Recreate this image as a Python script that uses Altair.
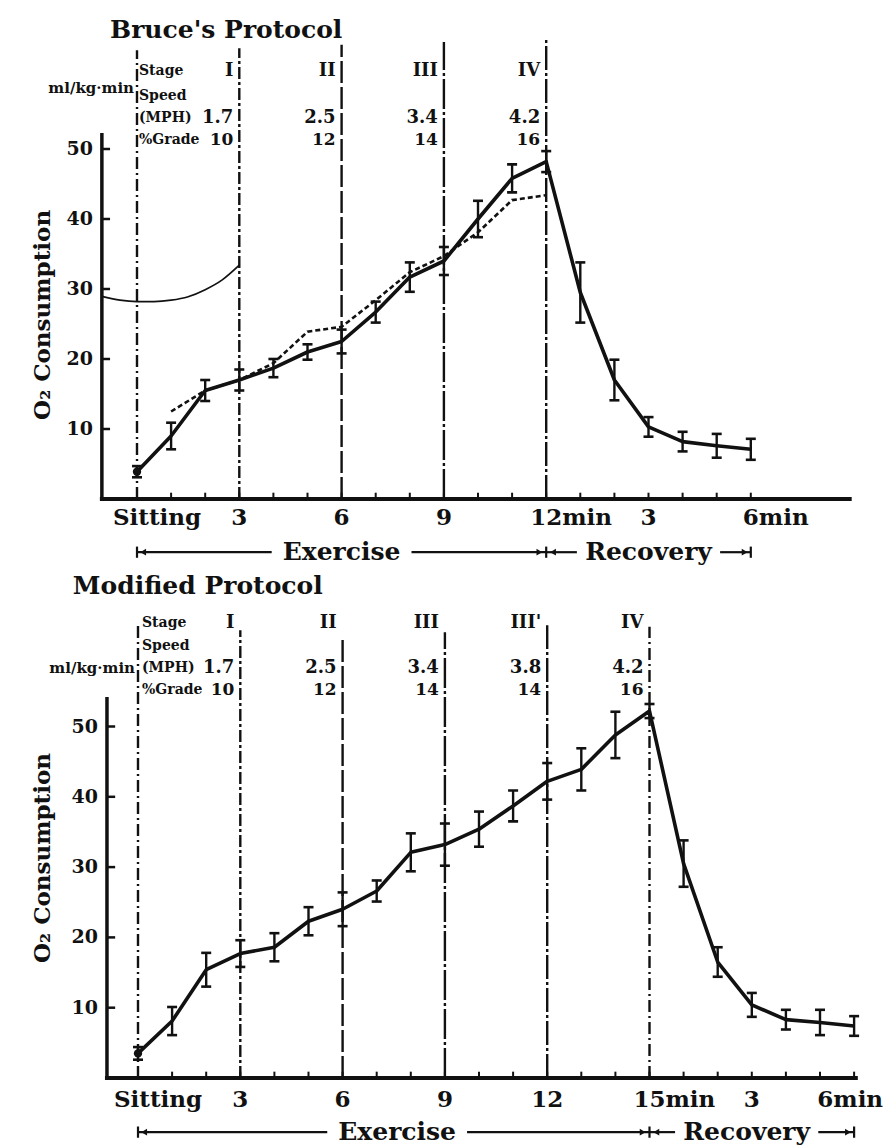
import altair as alt
import pandas as pd

FONT = "DejaVu Serif"
INK = "#111111"

# ---------------- Bruce's protocol ----------------
BR_MIN = list(range(19))
BR_O2 = [3.9, 9.0, 15.5, 17.0, 18.7, 21.0, 22.5, 26.7, 31.7, 34.0, 40.0, 45.8,
         48.2, 29.5, 17.0, 10.3, 8.2, 7.6, 7.1]
BR_SD = [0.8, 1.9, 1.5, 1.5, 1.3, 1.1, 1.7, 1.5, 2.1, 2.0, 2.6, 2.0,
         1.5, 4.3, 2.9, 1.4, 1.4, 1.7, 1.5]
BR_ALT_MIN = list(range(1, 13))
BR_ALT_O2 = [12.5, 15.5, 17.0, 19.4, 23.9, 24.6, 28.4, 32.4, 34.7, 38.1, 42.7, 43.4]
BR_REF_MIN = [-1, -0.5, 0, 0.5, 1, 1.5, 2, 2.5, 3]
BR_REF_O2 = [28.9, 28.4, 28.2, 28.2, 28.4, 28.9, 29.9, 31.3, 33.4]
BR_STAGE_END = [3, 6, 9, 12]
BR_STAGE = ["I", "II", "III", "IV"]
BR_SPEED = ["1.7", "2.5", "3.4", "4.2"]
BR_GRADE = ["10", "12", "14", "16"]
BR_MARKS = [0, 3, 6, 9, 12]
BR_MARK_TOP = [64.1, 64.4, 64.9, 65.3, 65.6]
BR_TICKS = [0, 3, 6, 9, 12, 15, 18]
BR_TICK_TEXT = ["Sitting", "3", "6", "9", "12min", "3", "6min"]

# ---------------- Modified protocol ----------------
MO_MIN = list(range(22))
MO_O2 = [3.5, 8.1, 15.4, 17.7, 18.6, 22.3, 24.0, 26.6, 32.1, 33.2, 35.4, 38.7,
         42.2, 43.9, 48.8, 52.2, 30.5, 16.5, 10.4, 8.3, 7.9, 7.4]
MO_SD = [0.9, 2.0, 2.4, 1.9, 2.0, 2.0, 2.4, 1.5, 2.7, 3.0, 2.5, 2.2,
         2.6, 3.0, 3.3, 1.0, 3.3, 2.1, 1.7, 1.4, 1.8, 1.4]
MO_STAGE_END = [3, 6, 9, 12, 15]
MO_STAGE = ["I", "II", "III", "III'", "IV"]
MO_SPEED = ["1.7", "2.5", "3.4", "3.8", "4.2"]
MO_GRADE = ["10", "12", "14", "14", "16"]
MO_MARKS = [0, 3, 6, 9, 12, 15]
MO_MARK_TOP = [64.4, 63.7, 62.3, 63.4, 64.4, 64.2]
MO_TICKS = [0, 3, 6, 9, 12, 15, 18, 21]
MO_TICK_TEXT = ["Sitting", "3", "6", "9", "12", "15min", "3", "6min"]

Y_TICKS = [10, 20, 30, 40, 50]
DASHES = [[12, 4, 2, 4], [12, 3, 3, 3], [22, 4], [30, 3, 3, 3], [24, 3, 3, 3], [10, 4]]


def panel(p):
    xs = alt.Scale(domain=p["xdom"], nice=False, zero=False)
    ys = alt.Scale(domain=p["ydom"], nice=False, zero=False)

    def X(f):
        return alt.X(f, type="quantitative", scale=xs, axis=None)

    def Y(f):
        return alt.Y(f, type="quantitative", scale=ys, axis=None)

    def text_layer(df, **kw):
        base = dict(font=FONT, fontWeight="bold", color=INK, baseline="middle")
        base.update(kw)
        return alt.Chart(df).mark_text(**base).encode(x=X("t"), y=Y("v"), text="s:N")

    layers = []

    # stage boundaries
    marks = pd.DataFrame({"t": p["marks"], "top": p["mark_top"], "zero": 0.0,
                          "k": [str(i) for i in range(len(p["marks"]))]})
    layers.append(alt.Chart(marks).mark_rule(strokeWidth=2.4, color=INK).encode(
        x=X("t"), y=Y("zero"), y2="top",
        strokeDash=alt.StrokeDash("k:N", legend=None,
                                  scale=alt.Scale(domain=list(marks["k"]),
                                                  range=DASHES[:len(marks)]))))

    # axes
    x0, x1, ytop = p["axis"]
    layers.append(alt.Chart(pd.DataFrame({"a": [x0], "b": [x1], "v": [0.0]}))
                  .mark_rule(strokeWidth=4, color=INK, strokeCap="square")
                  .encode(x=X("a"), x2="b", y=Y("v")))
    layers.append(alt.Chart(pd.DataFrame({"t": [x0], "a": [0.0], "b": [ytop]}))
                  .mark_rule(strokeWidth=3.5, color=INK)
                  .encode(x=X("t"), y=Y("a"), y2="b"))
    xt = pd.DataFrame({"t": p["minutes"], "a": 0.0, "b": 0.9})
    layers.append(alt.Chart(xt).mark_rule(strokeWidth=2, color=INK)
                  .encode(x=X("t"), y=Y("a"), y2="b"))
    yt = pd.DataFrame({"v": Y_TICKS, "a": x0, "b": x0 + 0.24})
    layers.append(alt.Chart(yt).mark_rule(strokeWidth=2.5, color=INK)
                  .encode(x=X("a"), x2="b", y=Y("v")))
    ytl = pd.DataFrame({"v": Y_TICKS, "t": x0, "s": [str(v) for v in Y_TICKS]})
    layers.append(text_layer(ytl, align="right", dx=-9, fontSize=19))

    # x tick labels
    ticks = pd.DataFrame({"t": p["ticks"], "s": p["tick_text"], "v": p["tick_row"]})
    plain = ticks[~ticks["s"].str.contains("min") & (ticks["s"] != "Sitting")]
    layers.append(text_layer(plain, align="center", fontSize=23))
    layers.append(text_layer(ticks[ticks["s"] == "Sitting"], align="left",
                             dx=-24, fontSize=23))
    mins = ticks[ticks["s"].str.contains("min")]
    last = mins[mins["t"] == max(p["ticks"])]
    inner = mins[mins["t"] != max(p["ticks"])]
    layers.append(text_layer(inner, align="left", dx=-16, fontSize=23))
    if p["last_right"]:
        layers.append(text_layer(last, align="right", dx=29, fontSize=23))
    else:
        layers.append(text_layer(last, align="left", dx=-8, fontSize=23))

    # optional thin reference curve
    if p.get("ref") is not None:
        rt, rv = p["ref"]
        layers.append(alt.Chart(pd.DataFrame({"t": rt, "v": rv}))
                      .mark_line(interpolate="monotone", strokeWidth=1.7, color=INK)
                      .encode(x=X("t"), y=Y("v")))

    # second group (dashed)
    if p.get("alt") is not None:
        at, av = p["alt"]
        layers.append(alt.Chart(pd.DataFrame({"t": at, "v": av}))
                      .mark_line(strokeWidth=2.6, strokeDash=[5, 3], color=INK)
                      .encode(x=X("t"), y=Y("v")))

    # mean curve with error bars
    d = pd.DataFrame({"t": p["minutes"], "v": p["o2"], "sd": p["sd"]})
    d["lo"] = d["v"] - d["sd"]
    d["hi"] = d["v"] + d["sd"]
    layers.append(alt.Chart(d).mark_rule(strokeWidth=2.4, color=INK)
                  .encode(x=X("t"), y=Y("lo"), y2="hi"))
    for end in ("lo", "hi"):
        layers.append(alt.Chart(d).mark_tick(orient="horizontal", size=10,
                                             thickness=2.6, color=INK, opacity=1)
                      .encode(x=X("t"), y=Y(end)))
    layers.append(alt.Chart(d).mark_line(strokeWidth=3.6, color=INK,
                                         strokeJoin="round")
                  .encode(x=X("t"), y=Y("v")))
    layers.append(alt.Chart(d.iloc[:1]).mark_circle(size=70, color=INK, opacity=1)
                  .encode(x=X("t"), y=Y("v")))

    # headings
    tt, tv = p["title_at"]
    layers.append(text_layer(pd.DataFrame({"t": [tt], "v": [tv], "s": [p["title"]]}),
                             align="left", fontSize=25))
    at_, av_ = p["ytitle_at"]
    layers.append(text_layer(pd.DataFrame({"t": [at_], "v": [av_],
                                           "s": ["O\u2082 Consumption"]}),
                             align="center", angle=270, fontSize=23))
    rows = p["rows"]
    layers.append(text_layer(pd.DataFrame({"t": [0.0], "v": [rows[4]],
                                           "s": ["ml/kg\u00b7min"]}),
                             align="right", dx=-3, fontSize=15))
    left = pd.DataFrame({"t": 0.0, "v": rows[:4],
                         "s": ["Stage", "Speed", "(MPH)", "%Grade"]})
    layers.append(text_layer(left, align="left", dx=p["left_dx"], fontSize=14))
    for row, vals, size in ((rows[0], p["stage"], 18), (rows[2], p["speed"], 18),
                            (rows[3], p["grade"], 17)):
        sd = pd.DataFrame({"t": p["stage_end"], "v": row, "s": vals})
        layers.append(text_layer(sd, align="right", dx=-6, fontSize=size))

    # Exercise / Recovery bar
    av = p["arrow_row"]
    ex_end = p["stage_end"][-1]
    rec_end = max(p["ticks"])
    ex_mid = p["ex_mid"]
    rec_mid = p["rec_mid"]
    segs = pd.DataFrame({"a": [0.0, ex_mid + 2.05, ex_end, rec_mid + 2.1],
                         "b": [ex_mid - 2.05, ex_end, rec_mid - 2.1, rec_end],
                         "v": av})
    layers.append(alt.Chart(segs).mark_rule(strokeWidth=2.2, color=INK)
                  .encode(x=X("a"), x2="b", y=Y("v")))
    bars = pd.DataFrame({"t": [0.0, ex_end, rec_end], "a": av - 0.8, "b": av + 0.8})
    layers.append(alt.Chart(bars).mark_rule(strokeWidth=2.2, color=INK)
                  .encode(x=X("t"), y=Y("a"), y2="b"))
    heads_l = pd.DataFrame({"t": [0.18, ex_end + 0.2], "v": av})
    heads_r = pd.DataFrame({"t": [ex_end - 0.2, rec_end - 0.18], "v": av})
    layers.append(alt.Chart(heads_l).mark_point(shape="triangle-left", size=45,
                                                filled=True, color=INK, opacity=1)
                  .encode(x=X("t"), y=Y("v")))
    layers.append(alt.Chart(heads_r).mark_point(shape="triangle-right", size=45,
                                                filled=True, color=INK, opacity=1)
                  .encode(x=X("t"), y=Y("v")))
    words = pd.DataFrame({"t": [ex_mid, rec_mid], "v": av,
                          "s": ["Exercise", "Recovery"]})
    layers.append(text_layer(words, align="center", fontSize=25))

    return alt.layer(*layers).properties(width=888, height=p["height"])


bruce = panel(dict(
    xdom=[-137 / 34.1, (888 - 137) / 34.1], ydom=[-61 / 7.0, 499 / 7.0], height=560,
    axis=(-1.03, 20.9, 52.3), minutes=BR_MIN, o2=BR_O2, sd=BR_SD,
    alt=(BR_ALT_MIN, BR_ALT_O2), ref=(BR_REF_MIN, BR_REF_O2),
    marks=BR_MARKS, mark_top=BR_MARK_TOP,
    ticks=BR_TICKS, tick_text=BR_TICK_TEXT, tick_row=-2.7, last_right=False,
    title="Bruce's Protocol", title_at=(-0.79, 67.0), ytitle_at=(-2.76, 26.3),
    rows=[61.2, 57.6, 54.5, 51.3, 58.7], left_dx=2,
    stage_end=BR_STAGE_END, stage=BR_STAGE, speed=BR_SPEED, grade=BR_GRADE,
    arrow_row=-7.6, ex_mid=6.0, rec_mid=15.0,
))

modified = panel(dict(
    xdom=[-138 / 34.1, (888 - 138) / 34.1], ydom=[-68 / 7.03, 518 / 7.03], height=586,
    axis=(-0.91, 21.05, 54.2), minutes=MO_MIN, o2=MO_O2, sd=MO_SD,
    alt=None, ref=None,
    marks=MO_MARKS, mark_top=MO_MARK_TOP,
    ticks=MO_TICKS, tick_text=MO_TICK_TEXT, tick_row=-3.1, last_right=True,
    title="Modified Protocol", title_at=(-1.91, 70.0), ytitle_at=(-2.79, 31.3),
    rows=[64.7, 61.5, 58.3, 55.2, 58.3], left_dx=4,
    stage_end=MO_STAGE_END, stage=MO_STAGE, speed=MO_SPEED, grade=MO_GRADE,
    arrow_row=-7.7, ex_mid=7.6, rec_mid=17.85,
))

chart = (
    alt.vconcat(bruce, modified, spacing=0, bounds="flush")
    .properties(padding=0, background="white")
    .configure_view(strokeWidth=0)
)

chart.save("out.html", embed_options={"renderer": "svg", "actions": False})
